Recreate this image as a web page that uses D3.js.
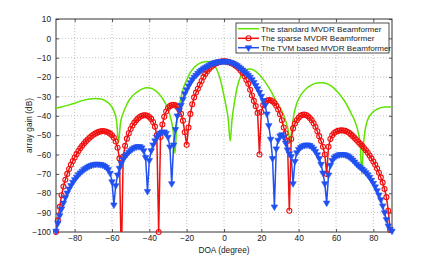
<!DOCTYPE html>
<html>
<head>
<meta charset="utf-8">
<script src="https://cdn.jsdelivr.net/npm/d3@7"></script>
<style>
body { margin: 0; background: #fff; }
text { font-family: "Liberation Sans", Arial, sans-serif; }
</style>
</head>
<body>
<div id="chart"></div>
<script>
// DOA axis for the two marker series, one value per degree
var doa = d3.range(-90, 91, 1);

// standard MVDR (smooth, no markers) - own DOA samples
var stdDoa = [-90,-87,-84,-81,-78,-75,-72,-69,-66,-63,-61,-59,-57.5,-56.5,-55.5,-54,-52,-50,-47,-44,-41,-38,-35,-32,-30,-28.5,-27.2,-26.3,-25.3,-24,-22,-20,-18,-16,-14,-12,-9,-6,-4,-2,-0.5,1,2.3,3.3,4.3,5.5,7,9,11,13.5,16,19,22,25,28,31,33,34.5,35.4,36.3,37.5,39,41,44,47,50,53,56,59,62,65,68,70,72,73,73.8,74.6,75.5,77,79,82,86,90];
var stdGain = [-36,-35.4,-34.6,-33.8,-32.8,-31.9,-31.3,-31,-31.3,-32.6,-34.2,-37.5,-43,-54,-44,-38.6,-34,-30.8,-28,-26.2,-25.5,-26.2,-28.5,-32.5,-36.5,-41.5,-48,-59.5,-44,-35,-26.5,-21.5,-17.6,-15,-13.4,-12.5,-11.9,-13,-15.8,-21,-27.5,-34.5,-42,-53,-42,-33.5,-25.5,-19.5,-16.8,-15.8,-16.4,-18.8,-22.5,-27,-32.5,-37.5,-42.5,-48,-54,-47,-39,-33.5,-29.5,-26,-24,-23.1,-22.9,-23.8,-25.8,-29,-33,-38.5,-42.5,-49,-55,-70,-56,-48,-42,-38.8,-36.6,-35.5,-35.4];

// sparse MVDR, -90..90
var sparseGain = [-100,-94,-87,-81,-76.5,-73,-70,-67.5,-65.3,-63.3,
  -61.5,-59.8,-58.2,-56.8,-55.5,-54.3,-53.2,-52.2,-51.3,-50.5,
  -49.8,-49.2,-48.7,-48.3,-48,-47.9,-48,-48.2,-48.6,-49.2,
  -50,-51.3,-53.3,-56.5,-62,-115,-61,-55.5,-51.8,-49,
  -46.8,-45,-43.5,-42.3,-41.3,-40.5,-40,-39.7,-39.7,-40,
  -40.6,-41.6,-43.2,-45.6,-50,-100,-51,-44.5,-40.5,-37.8,
  -36,-35,-34.5,-34.3,-34.6,-35.4,-36.8,-39,-42.5,-48.5,
  -55,-46,-39,-34,-30.5,-28,-26,-24,-22,-20,
  -18.4,-17,-15.8,-14.8,-14,-13.3,-12.8,-12.4,-12.1,-11.9,
  -11.8,-11.9,-12.1,-12.4,-12.8,-13.3,-14,-14.6,-15.5,-16.7,
  -18,-19.6,-21.5,-23.5,-26.5,-29.5,-32.3,-35,-38.5,-60,
  -38,-34.5,-33,-32.2,-31.9,-32,-32.5,-33.4,-34.8,-36.7,
  -39.2,-42.3,-46,-49,-53,-89,-52,-46.5,-44,-42.3,
  -41,-40,-39.5,-39.4,-39.6,-40.2,-41.1,-42.3,-43.8,-45.7,
  -48,-50.5,-53,-56,-60,-70,-56,-52,-50,-48.9,
  -48.2,-47.8,-47.6,-47.5,-47.6,-47.8,-48.2,-48.8,-49.6,-50.5,
  -51.5,-52.5,-53.5,-54.5,-55.5,-56.6,-57.8,-59.1,-60.5,-62,
  -63.6,-65.3,-67.2,-69.4,-71.8,-74.5,-77.8,-82,-89,-99,
  -110];

// TVM based MVDR, -90..90
var tvmGain = [-99.5,-95.5,-91.5,-88,-85,-82.2,-79.8,-77.7,-75.9,-74.3,
  -72.9,-71.6,-70.4,-69.4,-68.5,-67.7,-67,-66.4,-65.9,-65.5,
  -65.2,-65,-64.9,-65,-65.1,-65.4,-65.9,-66.6,-67.7,-69.6,
  -74,-86,-76,-70.5,-67,-64.5,-62.5,-61,-59.8,-58.7,
  -57.8,-57,-56.4,-56,-55.8,-55.9,-56.5,-58,-61.5,-79,
  -63,-58,-55,-52.8,-51,-49.8,-48.8,-48.3,-48.3,-49,
  -51,-56,-75,-55,-47,-40,-37,-34.5,-31.5,-28.5,
  -26.5,-24.5,-22.8,-21.3,-20,-19,-18,-17.1,-16.3,-15.6,
  -15,-14.4,-13.8,-13.3,-12.8,-12.5,-12.2,-12,-11.9,-11.8,
  -11.8,-11.9,-12,-12.2,-12.5,-12.9,-13.4,-14,-14.7,-15.5,
  -16.3,-17.2,-18.1,-19,-20,-21.3,-22.7,-24.3,-26,-27.8,
  -29.8,-32,-34.5,-39,-45,-52,-62,-87,-57,-52.5,
  -50.3,-49.7,-51,-54,-57.5,-59.5,-61,-75,-63.5,-59,
  -57.3,-56.3,-55.6,-55.2,-55,-55,-55.3,-56,-57,-58.3,
  -60,-62,-65,-69.5,-75,-85,-70.5,-65.5,-63,-61.6,
  -60.8,-60.3,-60,-59.9,-59.9,-60.1,-60.5,-61.1,-61.9,-62.8,
  -63.8,-64.9,-65.8,-66.6,-67.4,-68.3,-69.3,-70.4,-71.7,-73.2,
  -74.8,-76.6,-78.6,-80.8,-83.3,-86.5,-90,-93.5,-96.8,-98.5,
  -99.5];

var xTicks = [-80, -60, -40, -20, 0, 20, 40, 60, 80];
var yTicks = [10, 0, -10, -20, -30, -40, -50, -60, -70, -80, -90, -100];
var legendNames = ["The standard MVDR Beamformer", "The sparse MVDR Beamformer", "The TVM based MVDR Beamformer"];

var w = 433, h = 261;
var pLeft = 56, pRight = 392, pTop = 19, pBottom = 232;
var green = "#5fe300", red = "#f01010", blue = "#2050f0";

var svg = d3.select("#chart").append("svg")
	.attr("width", w)
	.attr("height", h);

var x = d3.scaleLinear().domain([-90, 90]).range([pLeft, pRight]);
var y = d3.scaleLinear().domain([-100, 10]).range([pBottom, pTop]);

var fmt = function(d) { return d < 0 ? "\u2212" + Math.abs(d) : "" + d; };

// grid
svg.append("g").selectAll("line").data(xTicks).enter().append("line")
	.attr("x1", function(d) { return x(d); }).attr("x2", function(d) { return x(d); })
	.attr("y1", pTop).attr("y2", pBottom)
	.attr("stroke", "#b0b0b0").attr("stroke-width", 0.8).attr("stroke-dasharray", "1,2");
svg.append("g").selectAll("line").data(yTicks.slice(1, -1)).enter().append("line")
	.attr("y1", function(d) { return y(d); }).attr("y2", function(d) { return y(d); })
	.attr("x1", pLeft).attr("x2", pRight)
	.attr("stroke", "#b0b0b0").attr("stroke-width", 0.8).attr("stroke-dasharray", "1,2");

// axes
svg.append("g").attr("transform", "translate(0," + pBottom + ")")
	.call(d3.axisBottom(x).tickValues(xTicks).tickSizeInner(-3).tickSizeOuter(0).tickPadding(3).tickFormat(fmt));
svg.append("g").attr("transform", "translate(0," + pTop + ")")
	.call(d3.axisTop(x).tickValues(xTicks).tickSizeInner(-3).tickSizeOuter(0).tickFormat(""));
svg.append("g").attr("transform", "translate(" + pLeft + ",0)")
	.call(d3.axisLeft(y).tickValues(yTicks).tickSizeInner(-3).tickSizeOuter(0).tickPadding(5).tickFormat(fmt));
svg.append("g").attr("transform", "translate(" + pRight + ",0)")
	.call(d3.axisRight(y).tickValues(yTicks).tickSizeInner(-3).tickSizeOuter(0).tickFormat(""));
svg.selectAll(".domain").remove();
svg.selectAll(".tick line").attr("stroke", "#333").attr("stroke-width", 0.8);
svg.selectAll(".tick text").attr("font-size", "8.3px").attr("fill", "#1a1a1a")
	.attr("font-family", "Liberation Sans, Arial, sans-serif");

svg.append("rect")
	.attr("x", pLeft).attr("y", pTop)
	.attr("width", pRight - pLeft).attr("height", pBottom - pTop)
	.attr("fill", "none").attr("stroke", "#333").attr("stroke-width", 1);

svg.append("text").text("DOA (degree)")
	.attr("x", (pLeft + pRight) / 2).attr("y", 253)
	.attr("text-anchor", "middle").attr("font-size", "8.3px").attr("fill", "#1a1a1a");
svg.append("text").text("array gain (dB)")
	.attr("transform", "translate(32," + ((pTop + pBottom) / 2) + ")rotate(-90)")
	.attr("text-anchor", "middle").attr("font-size", "8.3px").attr("fill", "#1a1a1a");

// clip for the lines
svg.append("clipPath").attr("id", "plotclip").append("rect")
	.attr("x", pLeft).attr("y", pTop).attr("width", pRight - pLeft).attr("height", pBottom - pTop);

var plot = svg.append("g");
var lines = plot.append("g").attr("clip-path", "url(#plotclip)");

var stdLine = d3.line()
	.x(function(d, i) { return x(stdDoa[i]); })
	.y(function(d) { return y(d); })
	.curve(d3.curveMonotoneX);
lines.append("path").datum(stdGain)
	.attr("d", stdLine)
	.attr("fill", "none").attr("stroke", green).attr("stroke-width", 1.5);

var degLine = d3.line()
	.x(function(d, i) { return x(doa[i]); })
	.y(function(d) { return y(d); });
lines.append("path").datum(sparseGain)
	.attr("d", degLine)
	.attr("fill", "none").attr("stroke", red).attr("stroke-width", 1.5);
lines.append("path").datum(tvmGain)
	.attr("d", degLine)
	.attr("fill", "none").attr("stroke", blue).attr("stroke-width", 1.5);

// markers (only points inside the y range are drawn)
var inRange = function(arr) {
	var out = [];
	for (var i = 0; i < arr.length; i++) {
		if (arr[i] >= -100) out.push({a: doa[i], g: arr[i]});
	}
	return out;
};
var tri = d3.symbol().type(d3.symbolTriangle).size(18);

plot.append("g").selectAll("circle").data(inRange(sparseGain)).enter().append("circle")
	.attr("cx", function(d) { return x(d.a); })
	.attr("cy", function(d) { return y(d.g); })
	.attr("r", 2.5)
	.attr("fill", "none").attr("stroke", red).attr("stroke-width", 1.1);

plot.append("g").selectAll("path").data(inRange(tvmGain)).enter().append("path")
	.attr("d", tri)
	.attr("transform", function(d) { return "translate(" + x(d.a) + "," + y(d.g) + ")rotate(180)"; })
	.attr("fill", blue).attr("stroke", blue).attr("stroke-width", 0.6);

// legend
var lg = svg.append("g");
lg.append("rect")
	.attr("x", 236).attr("y", 23).attr("width", 153).attr("height", 30)
	.attr("fill", "#fff").attr("stroke", "#222").attr("stroke-width", 0.8);
var rows = [28.7, 38.3, 47.7];
var cols = [green, red, blue];
for (var i = 0; i < legendNames.length; i++) {
	lg.append("line")
		.attr("x1", 238).attr("x2", 259).attr("y1", rows[i]).attr("y2", rows[i])
		.attr("stroke", cols[i]).attr("stroke-width", 1.5);
	lg.append("text").text(legendNames[i])
		.attr("x", 261).attr("y", rows[i] + 3)
		.attr("font-size", "8.1px").attr("fill", "#1a1a1a");
}
lg.append("circle").attr("cx", 248.5).attr("cy", rows[1]).attr("r", 2.5)
	.attr("fill", "none").attr("stroke", red).attr("stroke-width", 1.1);
lg.append("path").attr("d", tri)
	.attr("transform", "translate(248.5," + rows[2] + ")rotate(180)")
	.attr("fill", blue).attr("stroke", blue).attr("stroke-width", 0.6);
</script>
</body>
</html>
